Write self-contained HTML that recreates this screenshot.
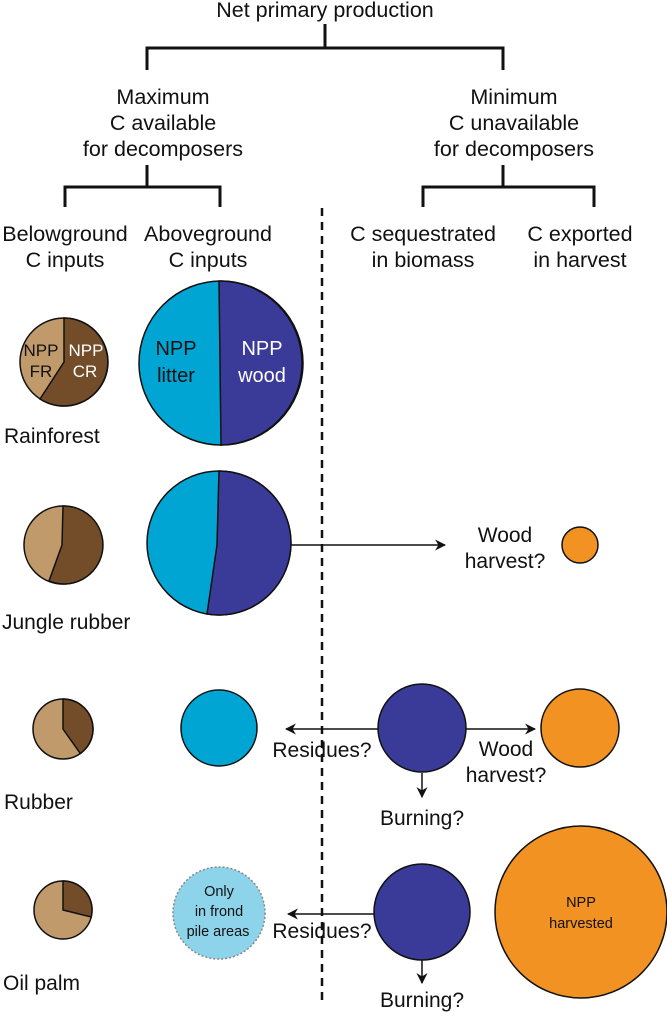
<!DOCTYPE html>
<html><head><meta charset="utf-8"><style>
html,body{margin:0;padding:0;background:#fff}
svg{display:block}
text{font-family:"Liberation Sans",sans-serif;fill:#111}
</style></head><body>
<svg width="667" height="1012" viewBox="0 0 667 1012" xmlns="http://www.w3.org/2000/svg">
<defs><marker id="ah" viewBox="0 0 10 10" refX="9" refY="5" markerWidth="11" markerHeight="11" orient="auto" markerUnits="userSpaceOnUse"><path d="M0,0 L10,5 L0,10 L3,5 Z" fill="#111"/></marker></defs>
<g font-size="21.5" text-anchor="middle">
<text x="325" y="17">Net primary production</text>
<text x="163" y="104">Maximum</text><text x="163" y="130">C available</text><text x="163" y="156">for decomposers</text>
<text x="514" y="104">Minimum</text><text x="514" y="130">C unavailable</text><text x="514" y="156">for decomposers</text>
<text x="65" y="241">Belowground</text><text x="65" y="267">C inputs</text>
<text x="208" y="241">Aboveground</text><text x="208" y="267">C inputs</text>
<text x="423" y="241">C sequestrated</text><text x="423" y="267">in biomass</text>
<text x="580" y="241">C exported</text><text x="580" y="267">in harvest</text>
</g>
<g stroke="#111" stroke-width="3" fill="none">
<path d="M325,24 V48 M147,70 V48 H503 V70"/>
<path d="M147,165 V187 M65,207 V187 H220 V207"/>
<path d="M503,165 V187 M423,207 V187 H594 V207"/>
</g>
<line x1="322" y1="208" x2="322" y2="1002" stroke="#111" stroke-width="2.5" stroke-dasharray="8,6"/>
<g stroke="#111" stroke-width="1.5">
<circle cx="64" cy="362" r="44" fill="#c19a6b"/>
<path d="M64,362 L64,318 A44,44 0 1,1 40,399 Z" fill="#734c29"/>
<circle cx="221" cy="363" r="82" fill="#00a5d3"/>
<path d="M219,281 A82,82 0 0,1 221,445 Z" fill="#3a3a99"/>
<circle cx="63" cy="545" r="39" fill="#c19a6b"/>
<path d="M63,506 L62,545 L49,581 A39,39 0 1,0 63,506 Z" fill="#734c29"/>
<circle cx="219" cy="543" r="72" fill="#00a5d3"/>
<path d="M219,471 L217,545 L207,614 A72,72 0 1,0 219,471 Z" fill="#3a3a99"/>
<circle cx="580" cy="545" r="18" fill="#f29222"/>
<circle cx="63" cy="729" r="30" fill="#c19a6b"/>
<path d="M63,729 L63,699 A30,30 0 0,1 80.3,753.5 Z" fill="#734c29"/>
<circle cx="219" cy="728" r="38" fill="#00a5d3"/>
<circle cx="422" cy="728" r="44" fill="#3a3a99"/>
<circle cx="580" cy="728" r="39" fill="#f29222"/>
<circle cx="63" cy="910" r="29" fill="#c19a6b"/>
<path d="M63,910 L63,881 A29,29 0 0,1 91.2,917 Z" fill="#734c29"/>
<circle cx="219" cy="913" r="46" fill="#8dd4ea" stroke="#888" stroke-dasharray="2,2"/>
<circle cx="422" cy="912" r="48" fill="#3a3a99"/>
<circle cx="581" cy="912" r="86" fill="#f29222"/>
</g>
<g stroke="#111" stroke-width="1.5" fill="none" marker-end="url(#ah)">
<line x1="291" y1="545" x2="445" y2="545"/>
<line x1="378" y1="729" x2="286" y2="729"/>
<line x1="466" y1="729" x2="535" y2="729"/>
<line x1="422" y1="773" x2="422" y2="797"/>
<line x1="374" y1="914" x2="288" y2="914"/>
<line x1="422" y1="960" x2="422" y2="983"/>
</g>
<g font-size="21">
<text x="4" y="443">Rainforest</text>
<text x="2" y="629">Jungle rubber</text>
<text x="4" y="809">Rubber</text>
<text x="3" y="990">Oil palm</text>
</g>
<g font-size="17" text-anchor="middle">
<text x="41" y="356">NPP</text><text x="41" y="377">FR</text>
<text x="86" y="356" style="fill:#fff">NPP</text><text x="85" y="377" style="fill:#fff">CR</text>
<text x="176" y="355" font-size="20">NPP</text><text x="176" y="382" font-size="20">litter</text>
<text x="262" y="355" font-size="20" style="fill:#fff">NPP</text><text x="262" y="382" font-size="20" style="fill:#fff">wood</text>
</g>
<g font-size="21" text-anchor="middle">
<text x="505" y="542">Wood</text><text x="505" y="568">harvest?</text>
<text x="322" y="757">Residues?</text>
<text x="506" y="756">Wood</text><text x="506" y="782">harvest?</text>
<text x="422" y="825">Burning?</text>
<text x="322" y="938">Residues?</text>
<text x="422" y="1007">Burning?</text>
</g>
<g font-size="14.5" text-anchor="middle">
<text x="219" y="896">Only</text><text x="219" y="916">in frond</text><text x="218" y="936">pile areas</text>
<text x="581" y="907">NPP</text><text x="581" y="928">harvested</text>
</g>
</svg>
</body></html>
